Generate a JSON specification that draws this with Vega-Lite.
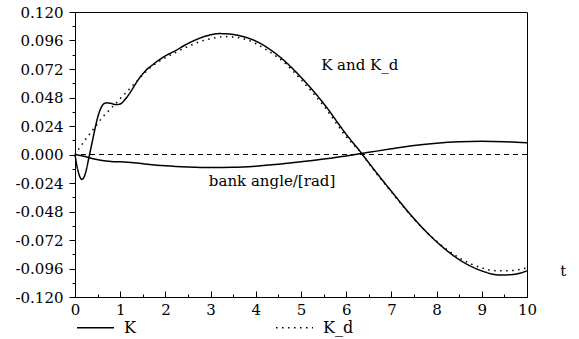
{
  "$schema": "https://vega.github.io/schema/vega-lite/v6.json",
  "width": 452,
  "height": 285,
  "autosize": {"type": "none"},
  "padding": {"left": 75, "top": 12, "right": 52, "bottom": 42},
  "background": "white",
  "config": {
    "view": {"stroke": "black", "strokeWidth": 1},
    "font": "DejaVu Serif",
    "axis": {"domainColor": "black", "tickColor": "black", "labelColor": "black", "labelFont": "DejaVu Serif", "labelFontSize": 15, "grid": false, "title": null, "labelOverlap": false}
  },
  "resolve": {"axis": {"x": "independent", "y": "independent"}},
  "datasets": {
    "curves": [
      {"t": 0, "v": 0, "series": "K"},
      {"t": 0.05, "v": -0.011, "series": "K"},
      {"t": 0.1, "v": -0.018, "series": "K"},
      {"t": 0.15, "v": -0.021, "series": "K"},
      {"t": 0.2, "v": -0.019, "series": "K"},
      {"t": 0.25, "v": -0.013, "series": "K"},
      {"t": 0.3, "v": -0.004, "series": "K"},
      {"t": 0.35, "v": 0.005, "series": "K"},
      {"t": 0.4, "v": 0.014, "series": "K"},
      {"t": 0.45, "v": 0.023, "series": "K"},
      {"t": 0.5, "v": 0.031, "series": "K"},
      {"t": 0.55, "v": 0.037, "series": "K"},
      {"t": 0.6, "v": 0.041, "series": "K"},
      {"t": 0.65, "v": 0.043, "series": "K"},
      {"t": 0.7, "v": 0.0435, "series": "K"},
      {"t": 0.8, "v": 0.043, "series": "K"},
      {"t": 0.9, "v": 0.042, "series": "K"},
      {"t": 1.0, "v": 0.0425, "series": "K"},
      {"t": 1.1, "v": 0.046, "series": "K"},
      {"t": 1.2, "v": 0.051, "series": "K"},
      {"t": 1.3, "v": 0.057, "series": "K"},
      {"t": 1.4, "v": 0.063, "series": "K"},
      {"t": 1.5, "v": 0.068, "series": "K"},
      {"t": 1.6, "v": 0.072, "series": "K"},
      {"t": 1.7, "v": 0.075, "series": "K"},
      {"t": 1.8, "v": 0.078, "series": "K"},
      {"t": 2.0, "v": 0.083, "series": "K"},
      {"t": 2.2, "v": 0.087, "series": "K"},
      {"t": 2.5, "v": 0.0935, "series": "K"},
      {"t": 2.8, "v": 0.0985, "series": "K"},
      {"t": 3.0, "v": 0.1008, "series": "K"},
      {"t": 3.2, "v": 0.1018, "series": "K"},
      {"t": 3.4, "v": 0.1015, "series": "K"},
      {"t": 3.7, "v": 0.0995, "series": "K"},
      {"t": 4.0, "v": 0.0955, "series": "K"},
      {"t": 4.3, "v": 0.0888, "series": "K"},
      {"t": 4.6, "v": 0.08, "series": "K"},
      {"t": 5.0, "v": 0.065, "series": "K"},
      {"t": 5.5, "v": 0.043, "series": "K"},
      {"t": 6.0, "v": 0.017, "series": "K"},
      {"t": 6.35, "v": 0.0005, "series": "K"},
      {"t": 6.5, "v": -0.007, "series": "K"},
      {"t": 7.0, "v": -0.031, "series": "K"},
      {"t": 7.5, "v": -0.054, "series": "K"},
      {"t": 8.0, "v": -0.0735, "series": "K"},
      {"t": 8.5, "v": -0.0885, "series": "K"},
      {"t": 9.0, "v": -0.098, "series": "K"},
      {"t": 9.4, "v": -0.1015, "series": "K"},
      {"t": 9.7, "v": -0.101, "series": "K"},
      {"t": 10.0, "v": -0.098, "series": "K"},
      {"t": 0, "v": 0, "series": "K_d"},
      {"t": 0.1, "v": 0.0055, "series": "K_d"},
      {"t": 0.2, "v": 0.011, "series": "K_d"},
      {"t": 0.3, "v": 0.016, "series": "K_d"},
      {"t": 0.4, "v": 0.021, "series": "K_d"},
      {"t": 0.5, "v": 0.026, "series": "K_d"},
      {"t": 0.6, "v": 0.031, "series": "K_d"},
      {"t": 0.7, "v": 0.035, "series": "K_d"},
      {"t": 0.8, "v": 0.039, "series": "K_d"},
      {"t": 0.9, "v": 0.043, "series": "K_d"},
      {"t": 1.0, "v": 0.047, "series": "K_d"},
      {"t": 1.2, "v": 0.055, "series": "K_d"},
      {"t": 1.4, "v": 0.063, "series": "K_d"},
      {"t": 1.6, "v": 0.071, "series": "K_d"},
      {"t": 1.8, "v": 0.077, "series": "K_d"},
      {"t": 2.0, "v": 0.0815, "series": "K_d"},
      {"t": 2.2, "v": 0.0855, "series": "K_d"},
      {"t": 2.5, "v": 0.091, "series": "K_d"},
      {"t": 2.8, "v": 0.0955, "series": "K_d"},
      {"t": 3.0, "v": 0.0975, "series": "K_d"},
      {"t": 3.3, "v": 0.0993, "series": "K_d"},
      {"t": 3.6, "v": 0.0985, "series": "K_d"},
      {"t": 4.0, "v": 0.0935, "series": "K_d"},
      {"t": 4.3, "v": 0.0865, "series": "K_d"},
      {"t": 4.6, "v": 0.0785, "series": "K_d"},
      {"t": 5.0, "v": 0.063, "series": "K_d"},
      {"t": 5.5, "v": 0.041, "series": "K_d"},
      {"t": 6.0, "v": 0.015, "series": "K_d"},
      {"t": 6.37, "v": -0.0005, "series": "K_d"},
      {"t": 6.5, "v": -0.0075, "series": "K_d"},
      {"t": 7.0, "v": -0.0315, "series": "K_d"},
      {"t": 7.5, "v": -0.0545, "series": "K_d"},
      {"t": 8.0, "v": -0.073, "series": "K_d"},
      {"t": 8.5, "v": -0.087, "series": "K_d"},
      {"t": 9.0, "v": -0.0955, "series": "K_d"},
      {"t": 9.3, "v": -0.0978, "series": "K_d"},
      {"t": 9.6, "v": -0.0978, "series": "K_d"},
      {"t": 10.0, "v": -0.0955, "series": "K_d"}
    ],
    "bank": [
      {"t": 0, "v": 0},
      {"t": 0.2, "v": -0.0015},
      {"t": 0.4, "v": -0.0035},
      {"t": 0.6, "v": -0.005},
      {"t": 0.8, "v": -0.0058},
      {"t": 1.0, "v": -0.0062},
      {"t": 1.3, "v": -0.007},
      {"t": 1.6, "v": -0.0082},
      {"t": 2.0, "v": -0.0095},
      {"t": 2.5, "v": -0.0105},
      {"t": 3.0, "v": -0.011},
      {"t": 3.5, "v": -0.0108},
      {"t": 4.0, "v": -0.0098},
      {"t": 4.5, "v": -0.0082},
      {"t": 5.0, "v": -0.0062},
      {"t": 5.5, "v": -0.0038},
      {"t": 6.0, "v": -0.0012},
      {"t": 6.5, "v": 0.0018},
      {"t": 7.0, "v": 0.0048},
      {"t": 7.5, "v": 0.0075},
      {"t": 8.0, "v": 0.0095},
      {"t": 8.5, "v": 0.0107},
      {"t": 9.0, "v": 0.0111},
      {"t": 9.5, "v": 0.0108},
      {"t": 10.0, "v": 0.0098}
    ],
    "zero": [{"v": 0}],
    "labels": [
      {"t": 6.3, "v": 0.075, "text": "K and K_d"},
      {"t": 4.36, "v": -0.022, "text": "bank angle/[rad]"},
      {"t": 10.8, "v": -0.0985, "text": "t"}
    ]
  },
  "layer": [
    {
      "data": {"name": "curves"},
      "mark": {"type": "line", "interpolate": "monotone", "strokeWidth": 1.5, "color": "black"},
      "encoding": {
        "x": {"field": "t", "type": "quantitative", "scale": {"domain": [0, 10], "nice": false},
          "axis": {"orient": "bottom", "values": [0,1,2,3,4,5,6,7,8,9,10],
            "tickSize": -6, "labelPadding": 11, "labelFlush": false, "labelBaseline": "top",
            "labelFont": "DejaVu Serif", "labelFontSize": 15}},
        "y": {"field": "v", "type": "quantitative", "scale": {"domain": [-0.12, 0.12], "nice": false, "zero": false},
          "axis": {"orient": "left", "values": [-0.12,-0.096,-0.072,-0.048,-0.024,0,0.024,0.048,0.072,0.096,0.12],
            "labelExpr": "(datum.value < -0.0001 ? '-' : '') + format(abs(datum.value), '.3f')",
            "tickSize": 6, "labelPadding": 6, "labelFlush": false,
            "labelFont": "DejaVu Serif", "labelFontSize": 15}},
        "strokeDash": {"field": "series", "type": "nominal",
          "scale": {"domain": ["K", "K_d"], "range": [[1, 0], [1.5, 4.5]]},
          "legend": {"orient": "none", "legendX": 1, "legendY": 296, "direction": "horizontal", "title": null,
            "symbolType": "stroke", "symbolSize": 1369, "symbolStrokeWidth": 1.5, "symbolStrokeColor": "black",
            "labelFont": "DejaVu Serif", "labelFontSize": 16, "labelColor": "black", "labelOffset": 9,
            "columnPadding": 137, "padding": 0}}
      }
    },
    {
      "data": {"name": "bank"},
      "mark": {"type": "line", "interpolate": "monotone", "strokeWidth": 1.5, "color": "black"},
      "encoding": {
        "x": {"field": "t", "type": "quantitative",
          "axis": {"orient": "bottom", "values": [0.5,1.5,2.5,3.5,4.5,5.5,6.5,7.5,8.5,9.5], "labels": false, "domain": false, "tickSize": -3}},
        "y": {"field": "v", "type": "quantitative",
          "axis": {"orient": "left", "values": [-0.108,-0.084,-0.06,-0.036,-0.012,0.012,0.036,0.06,0.084,0.108], "labels": false, "domain": false, "tickSize": 3}}
      }
    },
    {
      "data": {"name": "zero"},
      "mark": {"type": "rule", "color": "black", "strokeWidth": 1, "strokeDash": [5, 4]},
      "encoding": {"y": {"field": "v", "type": "quantitative", "axis": null}}
    },
    {
      "data": {"name": "labels"},
      "mark": {"type": "text", "font": "DejaVu Serif", "fontSize": 15, "color": "black", "align": "center", "baseline": "middle"},
      "encoding": {
        "x": {"field": "t", "type": "quantitative", "axis": null},
        "y": {"field": "v", "type": "quantitative", "axis": null},
        "text": {"field": "text"}
      }
    }
  ]
}
